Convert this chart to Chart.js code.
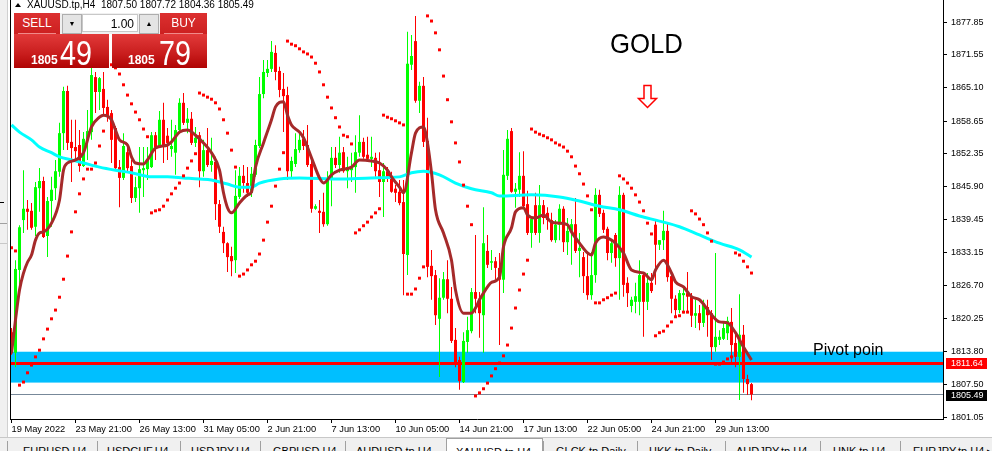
<!DOCTYPE html>
<html lang="en">
<head>
<meta charset="UTF-8">
<title>XAUUSD.tp,H4</title>
<script src="https://cdn.jsdelivr.net/npm/chart.js"></script>
<style>
  body { margin: 0; width: 992px; height: 451px; overflow: hidden; background: #fff; position: relative; font-family: "Liberation Sans", Arial, sans-serif; }
  #chart { position: absolute; left: 0; top: 0; }
  #strip { position: absolute; left: 0; top: 0; width: 7px; height: 437px; background: #f0f0f0; border-right: 1px solid #d0d0d0; }
  #strip .d1 { position: absolute; left: 0; top: 223px; width: 7px; height: 1px; background: #a0a0a0; }
  #strip .d2 { position: absolute; left: 0; top: 243px; width: 7px; height: 1px; background: #c8c8c8; }
  #strip .dash { position: absolute; left: 0; top: 202px; width: 4px; height: 1px; background: #000; }
  #hdr { position: absolute; left: 27px; top: 0; font-size: 10px; line-height: 10px; color: #000; white-space: pre; }
  #tri { position: absolute; left: 15px; top: 3px; width: 0; height: 0; border-left: 3px solid transparent; border-right: 3px solid transparent; border-bottom: 4px solid #000; }
  .lab { position: absolute; top: 13px; height: 21px; background: linear-gradient(#dc3030, #cc2020); color: #fff; font-size: 12px; line-height: 21px; text-align: center; }
  .lab::after { content: ''; position: absolute; left: 4px; right: 4px; bottom: 0; height: 1px; background: #f08a8a; }
  #qty { position: absolute; left: 60px; top: 13px; width: 100px; height: 21px; background: #f0f0f0; }
  .arr { position: absolute; top: 1px; width: 18px; height: 18px; background: #e4e4e4; border: 1px solid #adadad; font-size: 7px; line-height: 18px; text-align: center; color: #000; }
  #fld { position: absolute; left: 22px; top: 1px; width: 56px; height: 18px; background: #fff; border: 1px solid #c8c8c8; box-sizing: border-box; font-size: 12px; line-height: 18px; text-align: right; padding-right: 3px; color: #000; }
  .big { position: absolute; top: 34px; width: 95px; height: 34px; background: linear-gradient(#e23a3a, #c81c1c 60%, #b00404); color: #fff; overflow: hidden; }
  .big .sm { position: absolute; top: 20px; font-size: 12px; line-height: 12px; font-weight: bold; }
  .big .lg { position: absolute; top: 1px; font-size: 35px; line-height: 35px; transform: scaleX(0.82); transform-origin: 0 0; }
  #tabs { position: absolute; left: 0; top: 437px; width: 992px; height: 14px; background: #f0f0f0; border-top: 1px solid #c8c8c8; overflow: hidden; }
  .tab { position: absolute; top: 3px; height: 14px; border-left: 1px solid #a0a0a0; font-size: 11px; line-height: 13px; color: #000; padding-top: 4px; box-sizing: border-box; white-space: nowrap; }
  .tab.on { top: 0; background: #fff; border-right: 1px solid #a0a0a0; border-top: 1px solid #a0a0a0; padding-top: 7px; }
</style>
</head>
<body>
<canvas id="chart" width="992" height="440"></canvas>
<div id="strip"><div class="dash"></div><div class="d1"></div><div class="d2"></div></div>
<div id="tri"></div>
<div id="hdr">XAUUSD.tp,H4  1807.50 1807.72 1804.36 1805.49</div>
<div class="lab" style="left:14px;width:46px;">SELL</div>
<div id="qty">
  <div class="arr" style="left:2px;">&#9660;</div>
  <div id="fld">1.00</div>
  <div class="arr" style="left:79px;">&#9650;</div>
</div>
<div class="lab" style="left:160px;width:47px;">BUY</div>
<div class="big" style="left:14px;"><span class="sm" style="left:17px;">1805</span><span class="lg" style="left:46px;">49</span></div>
<div class="big" style="left:112px;"><span class="sm" style="left:16px;">1805</span><span class="lg" style="left:47px;">79</span></div>
<div id="tabs">
  <div class="tab" style="left:7px;width:90px;padding-left:15px;">EURUSD,H4</div>
  <div class="tab" style="left:97px;width:83px;padding-left:9px;">USDCHF,H4</div>
  <div class="tab" style="left:180px;width:80px;padding-left:10px;">USDJPY,H4</div>
  <div class="tab" style="left:260px;width:85px;padding-left:12px;">GBPUSD,H4</div>
  <div class="tab" style="left:345px;width:101px;padding-left:10px;">AUDUSD.tp,H4</div>
  <div class="tab on" style="left:446px;width:97px;padding-left:9px;">XAUUSD.tp,H4</div>
  <div class="tab" style="left:543px;width:94px;padding-left:12px;">GLCK.tp,Daily</div>
  <div class="tab" style="left:637px;width:88px;padding-left:11px;">HKK.tp,Daily</div>
  <div class="tab" style="left:725px;width:95px;padding-left:10px;">AUDJPY.tp,H4</div>
  <div class="tab" style="left:820px;width:80px;padding-left:12px;">UNK.tp,H4</div>
  <div class="tab" style="left:900px;width:92px;padding-left:12px;">EURJPY.tp,H4 &#9656;</div>
</div>
<script>
// H4 candles, bar 0 = 19 May 2022
const opens = [
  1817.6, 1813.6, 1829.7, 1839.4, 1841.6, 1841.2, 1838.1, 1845.6, 1847.0, 1836.3,
  1843.1, 1845.6, 1848.8, 1856.3, 1864.5, 1854.6, 1853.6, 1854.0, 1849.9, 1855.0,
  1856.5, 1867.2, 1864.3, 1864.9, 1861.4, 1860.2, 1857.3, 1849.7, 1847.6, 1852.6,
  1849.9, 1843.7, 1845.6, 1849.1, 1849.3, 1849.7, 1855.9, 1853.6, 1858.9, 1855.8,
  1853.2, 1852.5, 1856.9, 1862.2, 1858.3, 1859.1, 1854.4, 1855.9, 1848.9, 1853.0,
  1850.1, 1850.7, 1842.5, 1837.1, 1834.9, 1832.4, 1831.6, 1843.9, 1848.0, 1846.6,
  1844.7, 1848.2, 1853.8, 1863.9, 1868.0, 1868.8, 1871.9, 1868.4, 1864.9, 1863.7,
  1848.9, 1850.3, 1853.0, 1855.2, 1854.0, 1850.3, 1841.6, 1841.2, 1841.0, 1838.6,
  1847.2, 1851.5, 1850.1, 1852.6, 1848.9, 1849.1, 1849.7, 1852.5, 1854.6, 1852.1,
  1851.3, 1851.5, 1849.1, 1846.8, 1848.9, 1848.0, 1845.5, 1844.9, 1842.9, 1832.6,
  1869.6, 1874.2, 1862.6, 1865.5, 1854.8, 1830.5, 1828.7, 1820.2, 1824.3, 1827.9,
  1824.1, 1816.1, 1812.2, 1807.9, 1815.7, 1817.8, 1825.4, 1824.1, 1820.9, 1833.4,
  1831.1, 1831.4, 1830.1, 1827.8, 1848.0, 1856.7, 1844.9, 1845.3, 1848.0, 1842.5,
  1836.9, 1842.3, 1836.9, 1842.3, 1840.8, 1839.4, 1835.5, 1838.5, 1841.6, 1835.1,
  1837.3, 1838.6, 1833.4, 1832.2, 1828.5, 1824.8, 1828.7, 1844.3, 1840.8, 1837.7,
  1833.0, 1836.5, 1832.0, 1844.3, 1827.2, 1822.7, 1823.5, 1823.5, 1828.7, 1823.5,
  1827.2, 1838.5, 1834.6, 1835.5, 1837.3, 1828.5, 1824.1, 1821.9, 1824.8, 1825.2,
  1824.6, 1820.8, 1821.3, 1819.4, 1822.5, 1821.3, 1814.7, 1816.1, 1816.3, 1817.4,
  1819.6, 1815.5, 1812.8, 1817.1, 1808.5, 1807.50
];
const highs = [
  1818.4, 1831.6, 1838.4, 1849.1, 1843.3, 1842.7, 1846.8, 1849.5, 1847.8, 1843.9,
  1847.8, 1851.1, 1858.3, 1865.3, 1865.5, 1858.9, 1858.9, 1856.9, 1856.5, 1860.8,
  1869.8, 1868.2, 1867.2, 1868.2, 1862.8, 1860.8, 1857.7, 1851.1, 1856.3, 1854.4,
  1851.1, 1847.8, 1853.6, 1853.6, 1853.6, 1856.5, 1856.5, 1860.6, 1862.2, 1857.3,
  1858.9, 1857.9, 1863.1, 1864.1, 1861.2, 1860.4, 1857.5, 1856.5, 1855.0, 1857.3,
  1855.4, 1851.7, 1843.3, 1838.1, 1835.1, 1834.2, 1849.1, 1849.7, 1850.1, 1849.7,
  1849.7, 1855.0, 1867.2, 1870.5, 1870.5, 1874.2, 1873.4, 1869.2, 1868.0, 1865.3,
  1851.7, 1856.3, 1856.5, 1856.9, 1857.9, 1851.1, 1842.5, 1843.3, 1844.7, 1848.9,
  1853.6, 1853.6, 1855.6, 1853.6, 1851.7, 1852.5, 1855.9, 1859.8, 1855.4, 1855.6,
  1855.6, 1852.5, 1852.6, 1850.5, 1849.7, 1848.8, 1846.2, 1847.2, 1847.2, 1876.0,
  1875.4, 1879.1, 1866.3, 1867.2, 1859.3, 1833.6, 1829.7, 1828.1, 1829.3, 1831.6,
  1826.4, 1818.4, 1812.8, 1817.6, 1820.6, 1826.2, 1836.5, 1825.4, 1841.9, 1836.5,
  1833.6, 1832.2, 1833.0, 1853.0, 1856.9, 1857.3, 1846.6, 1852.6, 1852.8, 1845.1,
  1840.0, 1844.7, 1846.2, 1843.3, 1841.9, 1840.8, 1839.4, 1842.5, 1842.1, 1839.8,
  1839.6, 1843.7, 1836.9, 1833.2, 1833.0, 1833.2, 1845.6, 1845.3, 1841.4, 1838.1,
  1835.5, 1836.9, 1846.0, 1844.7, 1828.3, 1824.5, 1827.2, 1831.6, 1829.3, 1829.1,
  1829.1, 1839.4, 1835.5, 1841.2, 1838.8, 1829.3, 1824.8, 1825.8, 1826.4, 1829.3,
  1825.2, 1823.9, 1822.9, 1823.9, 1823.9, 1821.9, 1833.0, 1818.0, 1819.4, 1820.6,
  1822.3, 1817.6, 1825.0, 1819.0, 1809.3, 1807.72
];
const lows = [
  1813.2, 1810.8, 1826.4, 1836.9, 1837.5, 1837.5, 1836.3, 1841.0, 1835.9, 1832.2,
  1838.1, 1843.3, 1847.8, 1853.0, 1853.0, 1846.8, 1851.1, 1848.8, 1849.7, 1851.1,
  1855.0, 1860.2, 1860.8, 1859.8, 1858.5, 1850.5, 1849.1, 1841.9, 1847.2, 1848.6,
  1842.7, 1842.9, 1840.8, 1843.9, 1847.2, 1849.5, 1851.1, 1853.4, 1850.5, 1851.1,
  1851.7, 1848.2, 1856.3, 1857.9, 1856.3, 1854.0, 1853.6, 1845.8, 1847.8, 1849.7,
  1848.8, 1839.4, 1836.9, 1833.0, 1829.3, 1828.5, 1829.1, 1843.5, 1844.7, 1843.9,
  1843.9, 1847.8, 1853.4, 1863.1, 1867.2, 1868.2, 1866.6, 1863.3, 1856.5, 1847.2,
  1847.6, 1849.7, 1852.5, 1853.0, 1849.7, 1840.8, 1841.4, 1836.9, 1838.1, 1838.3,
  1842.1, 1849.5, 1848.6, 1848.6, 1845.6, 1846.8, 1844.7, 1851.7, 1851.3, 1850.7,
  1849.7, 1847.8, 1843.9, 1840.0, 1846.8, 1844.7, 1842.9, 1842.3, 1824.8, 1828.7,
  1868.6, 1862.2, 1860.2, 1853.6, 1828.3, 1823.9, 1819.0, 1808.9, 1823.9, 1821.3,
  1815.5, 1810.8, 1806.4, 1807.7, 1813.6, 1817.4, 1821.3, 1816.5, 1813.6, 1830.1,
  1829.7, 1827.8, 1815.1, 1825.2, 1847.2, 1844.7, 1841.8, 1843.9, 1841.9, 1836.5,
  1834.0, 1836.5, 1835.0, 1838.6, 1837.5, 1835.2, 1835.0, 1835.5, 1833.2, 1832.6,
  1830.7, 1833.0, 1828.3, 1825.2, 1823.9, 1823.9, 1827.2, 1840.0, 1836.9, 1831.6,
  1831.1, 1830.3, 1823.9, 1824.5, 1822.5, 1821.5, 1821.3, 1820.9, 1816.7, 1821.9,
  1825.2, 1826.8, 1833.6, 1833.6, 1827.4, 1821.3, 1820.6, 1821.3, 1821.3, 1821.5,
  1818.6, 1818.4, 1818.0, 1818.6, 1816.7, 1812.2, 1813.8, 1815.1, 1816.1, 1816.1,
  1811.2, 1810.8, 1804.4, 1805.8, 1805.4, 1804.36
];
const closes = [
  1813.8, 1829.9, 1838.0, 1841.6, 1841.0, 1837.9, 1845.8, 1847.0, 1836.1, 1843.1,
  1845.3, 1848.9, 1856.3, 1864.5, 1854.4, 1853.4, 1852.8, 1849.9, 1855.2, 1856.7,
  1867.6, 1864.3, 1867.0, 1861.2, 1859.8, 1855.0, 1849.5, 1847.6, 1853.8, 1849.5,
  1843.7, 1845.8, 1849.3, 1849.5, 1851.3, 1855.9, 1853.6, 1858.9, 1853.8, 1854.4,
  1853.8, 1856.9, 1862.2, 1858.3, 1859.1, 1854.4, 1855.4, 1848.9, 1853.0, 1850.1,
  1850.9, 1842.5, 1838.1, 1834.9, 1832.2, 1831.4, 1844.1, 1848.0, 1846.6, 1844.7,
  1848.4, 1854.0, 1863.9, 1868.2, 1868.8, 1872.1, 1868.2, 1864.7, 1863.5, 1848.9,
  1850.9, 1853.2, 1855.0, 1853.8, 1850.1, 1841.6, 1842.1, 1840.8, 1838.6, 1847.4,
  1851.5, 1850.1, 1852.5, 1848.9, 1849.7, 1849.9, 1852.6, 1854.6, 1851.7, 1851.3,
  1851.7, 1848.9, 1846.8, 1848.9, 1847.8, 1844.9, 1844.7, 1842.7, 1832.8, 1869.8,
  1871.3, 1862.6, 1865.5, 1854.6, 1830.3, 1828.5, 1820.9, 1824.3, 1827.9, 1824.1,
  1815.9, 1811.4, 1808.1, 1815.9, 1818.0, 1825.4, 1824.1, 1821.3, 1834.9, 1830.7,
  1831.4, 1830.1, 1827.8, 1848.2, 1855.2, 1844.9, 1845.5, 1848.0, 1842.1, 1836.9,
  1839.6, 1836.9, 1842.3, 1839.8, 1839.4, 1835.5, 1838.5, 1841.6, 1835.1, 1837.3,
  1838.6, 1833.4, 1834.0, 1828.5, 1824.8, 1828.7, 1844.3, 1840.6, 1837.5, 1833.0,
  1834.9, 1832.0, 1844.3, 1826.8, 1825.2, 1823.9, 1824.6, 1828.7, 1823.5, 1827.2,
  1825.6, 1834.6, 1835.5, 1837.3, 1828.3, 1824.1, 1821.9, 1825.2, 1825.2, 1824.5,
  1820.8, 1821.3, 1819.4, 1823.3, 1820.9, 1814.7, 1816.7, 1816.7, 1818.4, 1819.8,
  1815.1, 1812.8, 1817.1, 1808.5, 1807.5, 1805.49
];
// Parabolic SAR, one dot per bar
const sar = [
  1834.0, 1833.4, 1807.3, 1807.9, 1809.7, 1811.2, 1812.8, 1814.1, 1816.3, 1818.2,
  1820.2, 1821.9, 1824.4, 1827.9, 1832.4, 1837.1, 1841.0, 1844.5, 1847.4, 1849.3,
  1849.3, 1850.5, 1853.8, 1856.7, 1869.9, 1869.6, 1869.0, 1867.8, 1865.7, 1863.7,
  1862.0, 1860.4, 1858.9, 1857.1, 1855.6, 1840.8, 1841.2, 1841.4, 1842.1, 1843.3,
  1844.5, 1845.6, 1846.6, 1848.0, 1849.5, 1850.9, 1852.3, 1864.1, 1863.7, 1863.3,
  1862.9, 1862.2, 1861.0, 1858.9, 1856.3, 1853.0, 1849.7, 1828.5, 1828.9, 1829.7,
  1830.7, 1831.4, 1832.8, 1835.5, 1839.0, 1842.1, 1846.0, 1849.3, 1852.5, 1874.2,
  1873.6, 1873.3, 1872.7, 1872.1, 1871.7, 1871.1, 1869.9, 1868.2, 1865.7, 1863.3,
  1861.2, 1859.3, 1857.5, 1855.9, 1855.6, 1854.2, 1836.9, 1837.5, 1838.3, 1839.0,
  1840.0, 1840.8, 1841.6, 1859.8, 1859.4, 1859.1, 1858.7, 1858.3, 1857.9, 1825.0,
  1825.0, 1826.0, 1828.1, 1830.3, 1879.1, 1878.1, 1875.8, 1872.5, 1867.4, 1862.8,
  1858.5, 1854.4, 1850.7, 1846.2, 1842.1, 1838.5, 1805.2, 1805.8, 1806.6, 1807.7,
  1809.1, 1810.5, 1811.6, 1813.0, 1815.1, 1818.4, 1822.3, 1825.8, 1828.9, 1831.6,
  1857.1, 1856.5, 1856.1, 1855.8, 1855.4, 1855.0, 1854.4, 1854.0, 1853.6, 1852.8,
  1851.7, 1849.9, 1848.4, 1846.4, 1844.1, 1841.4, 1823.3, 1823.3, 1823.9, 1824.3,
  1824.8, 1825.2, 1848.0, 1847.4, 1846.6, 1845.6, 1844.3, 1842.9, 1841.2, 1838.8,
  1836.7, 1816.9, 1817.5, 1817.8, 1818.8, 1819.6, 1820.6, 1820.8, 1821.5, 1821.5,
  1841.2, 1840.6, 1839.6, 1838.5, 1836.9, 1835.3, 1811.4, 1811.4, 1811.8, 1812.4,
  1812.8, 1833.0, 1832.6, 1831.4, 1830.3, 1829.1
];
// fast moving average (brown), read at these bars
const maFastIdx = [0,1,2,3,4,5,6,7,8,10,12,13,14,16,18,20,22,23,25,26,27,29,30,31,33,34,36,39,40,42,44,46,48,50,52,53,54,55,57,59,60,61,63,65,66,68,69,70,72,73,75,77,78,80,82,85,87,90,92,94,95,97,98,100,101,103,104,105,106,108,110,111,113,115,116,117,118,119,120,122,123,125,126,128,129,131,133,135,137,139,140,142,144,145,146,148,150,151,153,155,158,160,161,163,165,166,168,170,172,175,177,179,181,183,185];
const maFastVal = [1813.5,1820.0,1825.8,1829.1,1831.2,1832.6,1835.5,1836.9,1837.1,1838.8,1843.3,1849.1,1850.5,1851.1,1852.5,1857.5,1859.4,1859.8,1858.9,1856.9,1855.0,1854.0,1851.7,1850.5,1850.3,1851.1,1853.4,1854.0,1854.6,1856.5,1856.9,1855.9,1854.4,1852.5,1849.1,1844.7,1841.8,1840.8,1842.7,1844.3,1844.9,1849.7,1854.4,1858.9,1861.4,1862.4,1859.8,1857.9,1856.5,1855.4,1851.5,1847.6,1846.6,1848.2,1849.1,1849.7,1851.1,1850.9,1850.5,1849.1,1847.8,1845.8,1844.7,1852.5,1856.3,1857.5,1854.4,1848.6,1841.4,1836.9,1831.6,1825.8,1821.3,1821.3,1822.3,1823.9,1825.2,1826.4,1827.3,1828.3,1834.2,1837.9,1841.0,1841.8,1840.4,1839.8,1840.4,1839.0,1838.8,1838.5,1837.1,1834.9,1833.0,1832.6,1834.9,1836.1,1835.5,1834.9,1833.0,1829.7,1829.1,1827.8,1829.7,1831.6,1829.1,1827.4,1826.4,1824.5,1823.9,1821.0,1819.6,1819.4,1817.5,1814.7,1812.2];
// slow moving average (aqua)
const maSlowIdx = [0,2,5,7,10,12,15,18,22,26,30,35,39,43,47,50,54,57,60,62,67,72,82,90,97,100,103,107,111,115,120,122,130,137,142,147,152,157,162,167,172,177,182,185];
const maSlowVal = [1857.9,1856.5,1855.0,1853.6,1852.5,1851.7,1851.1,1850.5,1849.7,1849.1,1848.6,1847.8,1847.8,1847.6,1847.4,1847.2,1846.4,1845.8,1845.8,1846.6,1847.4,1847.6,1847.4,1847.6,1847.8,1848.6,1848.9,1848.2,1846.6,1845.5,1844.7,1844.1,1844.3,1843.9,1843.1,1842.1,1841.4,1840.2,1839.2,1838.1,1836.5,1834.9,1833.6,1832.2];

const tickIdx = [0, 16, 32, 48, 64, 80, 96, 112, 128, 144, 160, 176];
const tickLabels = ['19 May 2022', '23 May 21:00', '26 May 13:00', '31 May 05:00', '2 Jun 21:00', '7 Jun 13:00',
                    '10 Jun 05:00', '14 Jun 21:00', '17 Jun 13:00', '22 Jun 05:00', '24 Jun 21:00', '29 Jun 13:00'];
const priceTicks = [1801.05, 1807.50, 1813.80, 1820.25, 1826.70, 1833.15, 1839.45, 1845.90, 1852.35, 1858.65, 1865.10, 1871.55, 1877.85];

const pivotPrice = 1811.64;
const zoneLow = 1807.8, zoneHigh = 1813.8;
const bidPrice = 1805.49;

const GREEN = '#00ff00', RED = '#ff0000';
const candleColor = opens.map((o, i) => closes[i] >= o ? GREEN : RED);

const overlay = {
  id: 'overlay',
  beforeDatasetsDraw(chart) {
    const { ctx, chartArea: a, scales: { x, y } } = chart;
    ctx.save();
    // zone
    const zt = y.getPixelForValue(zoneHigh), zb = y.getPixelForValue(zoneLow);
    ctx.fillStyle = '#00bfff';
    ctx.fillRect(a.left, zt, a.right - a.left, zb - zt);
    // bid line
    const yb = Math.round(y.getPixelForValue(bidPrice)) + 0.5;
    ctx.strokeStyle = '#778899';
    ctx.lineWidth = 1;
    ctx.beginPath(); ctx.moveTo(a.left, yb); ctx.lineTo(a.right, yb); ctx.stroke();
    // pivot line
    const yp = Math.round(y.getPixelForValue(pivotPrice)) + 0.5;
    ctx.strokeStyle = RED;
    ctx.lineWidth = 3;
    ctx.beginPath(); ctx.moveTo(a.left, yp); ctx.lineTo(a.right, yp); ctx.stroke();
    ctx.restore();
  },
  afterDraw(chart) {
    const { ctx, chartArea: a, scales: { x, y } } = chart;
    ctx.save();
    ctx.fillStyle = '#000';
    ctx.fillRect(a.left - 1, 0, 1, a.bottom + 1);

    // price tags on the axis
    ctx.font = '9px "Liberation Sans", Arial';
    ctx.textBaseline = 'middle';
    ctx.textAlign = 'left';
    const yp = Math.round(y.getPixelForValue(pivotPrice));
    ctx.fillStyle = RED;
    ctx.fillRect(a.right + 3, yp - 5, 41, 11);
    ctx.fillStyle = '#fff';
    ctx.fillText(pivotPrice.toFixed(2), a.right + 8, yp + 0.5);
    const yb = Math.round(y.getPixelForValue(bidPrice));
    ctx.fillStyle = '#000';
    ctx.fillRect(a.right + 3, yb - 4, 41, 11);
    ctx.fillStyle = '#fff';
    ctx.fillText(bidPrice.toFixed(2), a.right + 8, yb + 1.5);

    // text objects
    ctx.fillStyle = '#000';
    ctx.textBaseline = 'alphabetic';
    ctx.font = '16px "Liberation Sans", Arial';
    ctx.fillText('Pivot poin', x.getPixelForValue(200.4), y.getPixelForValue(1813.16));
    ctx.save();
    ctx.translate(x.getPixelForValue(149.6), y.getPixelForValue(1871.9));
    ctx.scale(0.92, 1);
    ctx.font = '28px "Liberation Sans", Arial';
    ctx.fillText('GOLD', 0, 0);
    ctx.restore();

    // down arrow
    const ax = Math.round(x.getPixelForValue(158.9)) + 0.5, ay = Math.round(y.getPixelForValue(1865.66)) + 0.5;
    ctx.beginPath();
    ctx.moveTo(ax - 3.5, ay);
    ctx.lineTo(ax + 3.5, ay);
    ctx.lineTo(ax + 3.5, ay + 13);
    ctx.lineTo(ax + 9, ay + 13);
    ctx.lineTo(ax, ay + 22);
    ctx.lineTo(ax - 9, ay + 13);
    ctx.lineTo(ax - 3.5, ay + 13);
    ctx.closePath();
    ctx.fillStyle = '#fff';
    ctx.fill();
    ctx.strokeStyle = RED;
    ctx.lineWidth = 1.5;
    ctx.stroke();
    ctx.restore();
  }
};

new Chart(document.getElementById('chart'), {
  type: 'bar',
  data: {
    datasets: [
      {
        type: 'line', label: 'SAR', order: 0,
        data: sar.map((v, i) => ({ x: i, y: v })),
        showLine: false, pointStyle: 'rect', pointRadius: 2.1, pointBorderWidth: 0,
        pointBackgroundColor: RED, borderColor: RED
      },
      {
        type: 'line', label: 'MA fast', order: 1,
        data: maFastIdx.map((b, k) => ({ x: b, y: maFastVal[k] })),
        borderColor: '#a52a2a', borderWidth: 3, pointRadius: 0, tension: 0.3, cubicInterpolationMode: 'monotone'
      },
      {
        type: 'line', label: 'MA slow', order: 2,
        data: maSlowIdx.map((b, k) => ({ x: b, y: maSlowVal[k] })),
        borderColor: '#00ffff', borderWidth: 3, pointRadius: 0, tension: 0.3, cubicInterpolationMode: 'monotone'
      },
      {
        label: 'body', order: 3, grouped: false,
        data: opens.map((o, i) => ({ x: i, y: [o, closes[i]] })),
        backgroundColor: candleColor, barThickness: 3, minBarLength: 1, inflateAmount: 0, borderWidth: 0
      },
      {
        label: 'wick', order: 4, grouped: false,
        data: lows.map((l, i) => ({ x: i, y: [l, highs[i]] })),
        backgroundColor: candleColor, barThickness: 1, inflateAmount: 0, borderWidth: 0
      }
    ]
  },
  options: {
    responsive: false,
    animation: false,
    events: [],
    layout: { autoPadding: false, padding: { left: 11, top: 0, right: 0, bottom: 0 } },
    plugins: { legend: { display: false }, tooltip: { enabled: false } },
    scales: {
      x: {
        type: 'linear',
        offset: false,
        min: -0.125, max: 232.875,
        afterBuildTicks: s => { s.ticks = tickIdx.map(v => ({ value: v })); },
        afterFit: s => { s.height = 21; s.paddingLeft = 0; s.paddingRight = 0; },
        grid: { offset: false, drawOnChartArea: false, drawTicks: true, tickLength: 4, color: '#000' },
        border: { display: true, color: '#000' },
        ticks: {
          autoSkip: false, maxRotation: 0, align: 'start', padding: 1, color: '#000',
          font: { family: '"Liberation Sans", Arial', size: 9.3 },
          callback: v => { const k = tickIdx.indexOf(v); return k < 0 ? '' : tickLabels[k]; }
        }
      },
      y: {
        position: 'right',
        min: 1800.72, max: 1882.19,
        afterBuildTicks: s => { s.ticks = priceTicks.map(v => ({ value: v })); },
        afterFit: s => { s.width = 49; s.paddingTop = 0; s.paddingBottom = 0; },
        grid: { drawOnChartArea: false, drawTicks: true, tickLength: 4, color: '#000' },
        border: { display: true, color: '#000' },
        ticks: {
          padding: 4, color: '#000',
          font: { family: '"Liberation Sans", Arial', size: 9 },
          callback: v => v.toFixed(2)
        }
      }
    }
  },
  plugins: [overlay]
});
</script>
</body>
</html>
